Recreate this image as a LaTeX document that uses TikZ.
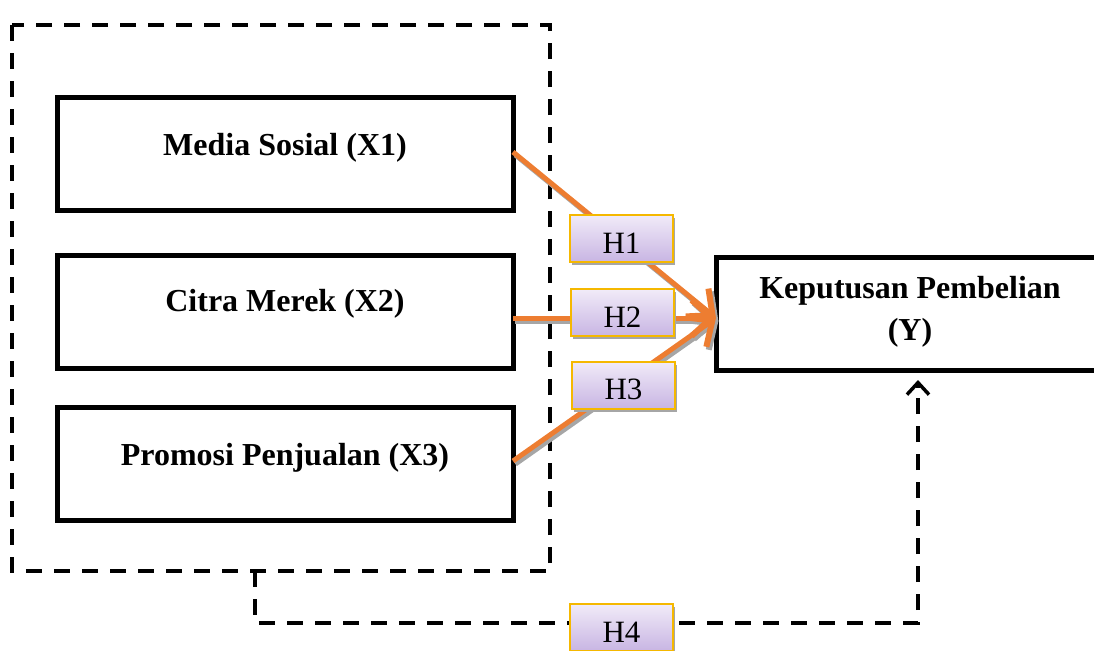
\documentclass[tikz,border=0pt]{standalone}
\usepackage{fontspec}
\setmainfont{Liberation Serif}
\usetikzlibrary{arrows.meta,shadows}
\definecolor{arrorange}{HTML}{ED7D31}
\definecolor{hgold}{HTML}{F5B800}
\definecolor{htop}{HTML}{F1EBF8}
\definecolor{hbot}{HTML}{C8B5E3}
\tikzset{
  xbox/.style={draw=black, line width=2.5pt, fill=white, minimum width=228pt, minimum height=56.5pt, inner sep=0pt},
  ybox/.style={draw=black, line width=2.5pt, fill=white, minimum width=194pt, minimum height=56.5pt, inner sep=0pt},
  lbl/.style={font=\fontsize{16}{21}\selectfont\bfseries, anchor=base, inner sep=0pt},
  hbox/.style={draw=hgold, line width=1pt, top color=htop, bottom color=hbot, minimum width=51.5pt, minimum height=23.5pt, inner sep=0pt,
    drop shadow={shadow xshift=1pt, shadow yshift=-1.5pt, fill=gray!70, opacity=1}},
  htext/.style={font=\fontsize{15.5}{18}\selectfont, anchor=base, inner sep=0pt},
  dashline/.style={draw=black, line width=1.75pt, dash pattern=on 8pt off 6pt},
  orangearrow/.style={draw=arrorange, line width=2.5pt, -{Straight Barb[length=10pt,width=18pt,line width=3pt]}},
  orangeshadow/.style={draw=gray!70, line width=2.5pt, -{Straight Barb[length=10pt,width=18pt,line width=3pt]}, transform canvas={xshift=1.2pt,yshift=-1.5pt}},
}
\begin{document}
\begin{tikzpicture}[x=0.5pt,y=-0.5pt]
\useasboundingbox (0,0) rectangle (1094,650);
\clip (0,0) rectangle (1094,650);
% big dashed group box
\coordinate (gtl) at (12,25);
\coordinate (gbr) at (550,571);
\draw[dashline] (gtl) rectangle (gbr);
% boxes
\node[xbox] (x1) at (285,154) {};
\node[xbox] (x2) at (285,311.5) {};
\node[xbox] (x3) at (285,463.5) {};
\node[lbl] (t1) at ([yshift=-0.5pt]x1.center) {Media Sosial (X1)};
\node[lbl] (t2) at ([yshift=-0.2pt]x2.center) {Citra Merek (X2)};
\node[lbl] (t3) at ([yshift=-0.8pt]x3.center) {Promosi Penjualan (X3)};
\node[ybox] (y) at (910,313.5) {};
\node[lbl] (ty1) at (910,298) {Keputusan Pembelian};
\node[lbl] (ty2) at (910,340) {(Y)};
% arrows
\coordinate (tip) at (716,318);
\coordinate (s1) at (513,152);
\coordinate (s2) at (513,318);
\coordinate (s3) at (513,461);
\foreach \s in {s1,s2,s3}{
  \draw[orangeshadow] (\s) -- (tip);
}
\foreach \s in {s1,s2,s3}{
  \draw[orangearrow] (\s) -- (tip);
}
% H4 connector
\coordinate (h4a) at (255,571);
\coordinate (h4b) at (255,623);
\coordinate (h4c) at (918,623);
\coordinate (h4d) at (918,380);
\draw[dashline] (h4a) -- (h4b) -- (h4c) -- ([yshift=-4pt]h4d);
\draw[draw=black, line width=1.75pt, -{Straight Barb[length=6pt,width=11pt,line width=1.75pt]}] ([yshift=-4pt]h4d) -- (h4d);
% hypothesis labels
\node[hbox] (h1) at (621.5,238.5) {};
\node[hbox] (h2) at (622.5,312.5) {};
\node[hbox] (h3) at (623.5,385) {};
\node[hbox] (h4) at (621.5,627.5) {};
\node[htext] at (621.5,253) {H1};
\node[htext] at (622.5,327) {H2};
\node[htext] at (623.5,399.5) {H3};
\node[htext] at (621.5,642) {H4};
\end{tikzpicture}
\end{document}
